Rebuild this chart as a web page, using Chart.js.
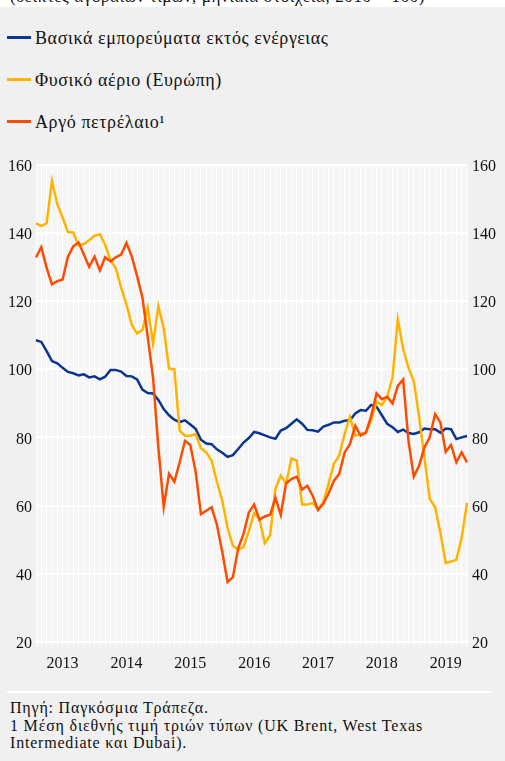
<!DOCTYPE html>
<html>
<head>
<meta charset="utf-8">
<script src="https://cdn.jsdelivr.net/npm/chart.js@4"></script>
<style>
  body {
    margin: 0;
    width: 505px;
    height: 761px;
    overflow: hidden;
    background: #f0f0f0;
    font-family: "Liberation Serif", "DejaVu Serif", serif;
    color: #111;
    position: relative;
  }
  #subtitle {
    position: absolute;
    left: 0;
    top: 0;
    width: 505px;
    height: 7px;
    background: #fff;
    overflow: hidden;
  }
  #subtitle span {
    position: absolute;
    left: 10px;
    top: -13px;
    font-family: "Liberation Serif", serif;
    font-size: 17px;
    letter-spacing: 0.6px;
    white-space: nowrap;
  }
  .legend-item {
    position: absolute;
    left: 7px;
    font-family: "Liberation Serif", serif;
    font-size: 18px;
    letter-spacing: 0.6px;
    white-space: nowrap;
  }
  .legend-item i {
    display: inline-block;
    width: 24px;
    height: 3px;
    vertical-align: middle;
    margin-right: 4px;
    position: relative;
    top: -2px;
  }
  #chartBox {
    position: absolute;
    left: 0;
    top: 150px;
    width: 505px;
    height: 530px;
  }
  #sep {
    position: absolute;
    left: 7px;
    top: 691px;
    width: 484px;
    height: 2px;
    background: #fff;
  }
  #footer {
    position: absolute;
    left: 10px;
    top: 699px;
    font-family: "Liberation Serif", serif;
    font-size: 16px;
    letter-spacing: 0.8px;
    line-height: 17.5px;
    white-space: nowrap;
  }
</style>
</head>
<body>
<div id="subtitle"><span>(δείκτες αγοραίων τιμών, μηνιαία στοιχεία, 2010 = 100)</span></div>
<div id="legend"></div>
<div id="chartBox"><canvas id="priceChart" width="505" height="530"></canvas></div>
<div id="sep"></div>
<div id="footer">
  Πηγή: Παγκόσμια Τράπεζα.<br>
  1 Μέση διεθνής τιμή τριών τύπων (UK Brent, West Texas<br>
  Intermediate και Dubai).
</div>
<script>
// monthly data, Aug 2012 - May 2019
const startYear = 2012;
const startMonth = 8;

const seriesNames = [
  "Βασικά εμπορεύματα εκτός ενέργειας",
  "Φυσικό αέριο (Ευρώπη)",
  "Αργό πετρέλαιο¹",
];
const seriesColors = ["#0a3591", "#ffb300", "#ff4b00"];

const nonEnergy = [
  108.5, 108, 105.3, 102.4, 101.7, 100.4, 99.2, 98.8, 98.2, 98.5,
  97.6, 97.9, 97, 97.8, 99.8, 99.8, 99.3, 98, 97.9, 97,
  94, 93, 92.9, 91, 88.3, 86.5, 85.2, 84.5, 85, 83.8,
  82.5, 79.3, 78.2, 78, 76.5, 75.5, 74.3, 74.8, 76.6, 78.5,
  79.8, 81.6, 81.2, 80.6, 80, 79.6, 82, 82.7, 84, 85.3,
  84, 82.2, 82.1, 81.7, 83.2, 83.7, 84.4, 84.4, 84.9, 85,
  87, 88, 87.8, 89.5, 89, 86.5, 84, 83, 81.6, 82.3,
  81.3, 81, 81.5, 82.6, 82.4, 82.4, 81.4, 82.6, 82.4, 79.5,
  80, 80.4,
];

const naturalGas = [
  142.8, 142, 142.8, 155.2, 148.4, 144.5, 140.2, 140.1, 136.3, 136.7,
  137.8, 139.1, 139.6, 136.5, 132, 129.5, 124, 119, 113, 110.5,
  111.5, 118, 107.5, 118.5, 112, 100.2, 100, 82, 80.5, 80.5,
  81, 76.8, 75.6, 73.2, 67, 61.5, 53.5, 48.2, 47.1, 47.8,
  52.5, 57.8, 56, 49, 51.3, 65, 68.8, 66.5, 73.8, 73.2,
  60.3, 60.3, 60.8, 59, 61, 66.5, 72.3, 74.8, 81, 86,
  80.5, 81, 81.5, 85, 90.5, 89.5, 92, 97.5, 114.6, 106,
  100.4, 96.5, 86, 74, 62, 59.5, 52, 43.2, 43.6, 44.1,
  50.5, 60.8,
];

const crudeOil = [
  132.8, 135.8, 129.7, 124.9, 125.8, 126.3, 133, 136, 137.2, 133.6,
  130, 133, 129, 132.8, 131.6, 132.8, 133.6, 137, 133.1, 127.3,
  121, 109.5, 97.5, 77, 59.6, 69.3, 67, 72.7, 79, 77.8,
  70, 57.5, 58.5, 59.5, 54.4, 46.5, 37.6, 39, 47.5, 51.7,
  58, 60.3, 55.9, 56.8, 57.3, 62.3, 57.3, 66.5, 67.8, 68.5,
  64.7, 65.8, 62.9, 58.7, 60.5, 63.6, 67.3, 69.3, 75.6, 78,
  83.4, 80.5, 81.3, 86.3, 92.9, 91.2, 91.9, 89.9, 95.1, 97,
  79, 68.5, 71.7, 77.1, 80, 86.8, 84.4, 75.8, 77.8, 72.7,
  75.6, 72.7,
];

const yTicks = [20, 40, 60, 80, 100, 120, 140, 160];

// month labels, year shown only in January
const months = [];
for (let i = 0; i < nonEnergy.length; i++) {
  const m = startMonth - 1 + i;
  months.push({ year: startYear + Math.floor(m / 12), month: (m % 12) + 1 });
}
const labels = months.map((d) => d.year + "-" + d.month);

// html legend
const legendEl = document.getElementById("legend");
const legendTops = [28, 70, 112];
seriesNames.forEach((name, i) => {
  const div = document.createElement("div");
  div.className = "legend-item";
  div.style.top = legendTops[i] + "px";
  div.innerHTML = `<i style="background:${seriesColors[i]}"></i>${name}`;
  legendEl.appendChild(div);
});

const tickFont = { family: "'Liberation Serif', serif", size: 16 };

const plotBg = {
  id: "plotBg",
  beforeDraw(chart) {
    const { ctx, chartArea } = chart;
    ctx.save();
    ctx.fillStyle = "#f5f5f5";
    ctx.fillRect(chartArea.left, chartArea.top, chartArea.right - chartArea.left, chartArea.bottom - chartArea.top);
    ctx.restore();
  },
};

const ctx = document.getElementById("priceChart").getContext("2d");
new Chart(ctx, {
  type: "line",
  data: {
    labels: labels,
    datasets: [
      {
        label: seriesNames[0],
        data: nonEnergy,
        borderColor: seriesColors[0],
        order: 2,
      },
      {
        label: seriesNames[1],
        data: naturalGas,
        borderColor: seriesColors[1],
        order: 1,
      },
      {
        label: seriesNames[2],
        data: crudeOil,
        borderColor: seriesColors[2],
        order: 0,
      },
    ],
  },
  options: {
    responsive: false,
    animation: false,
    layout: { padding: { top: 13, left: 0, right: 0, bottom: 0 } },
    elements: {
      line: { borderWidth: 2.5, tension: 0, fill: false },
      point: { radius: 0 },
    },
    plugins: {
      legend: { display: false },
      tooltip: { enabled: false },
    },
    scales: {
      x: {
        offset: false,
        border: { display: false },
        grid: { color: "#ffffff", lineWidth: 1, tickLength: 4, drawTicks: true },
        ticks: {
          autoSkip: false,
          maxRotation: 0,
          padding: 8,
          color: "#111",
          font: tickFont,
          callback: (val, i) => (months[i].month === 1 ? String(months[i].year) : ""),
        },
        afterFit: (scale) => {
          scale.height = 38;
        },
      },
      y: {
        position: "left",
        min: 20,
        max: 160,
        border: { display: false },
        grid: { color: "#ffffff", lineWidth: 2, drawTicks: false },
        ticks: {
          stepSize: 20,
          padding: 4,
          labelOffset: 2,
          color: "#111",
          font: tickFont,
        },
        afterBuildTicks: (scale) => {
          scale.ticks = yTicks.map((v) => ({ value: v }));
        },
        afterFit: (scale) => {
          scale.width = 36;
        },
      },
      y2: {
        position: "right",
        min: 20,
        max: 160,
        border: { display: false },
        grid: { drawOnChartArea: false, drawTicks: false },
        ticks: {
          stepSize: 20,
          padding: 5,
          labelOffset: 2,
          color: "#111",
          font: tickFont,
        },
        afterBuildTicks: (scale) => {
          scale.ticks = yTicks.map((v) => ({ value: v }));
        },
        afterFit: (scale) => {
          scale.width = 38;
        },
      },
    },
  },
  plugins: [plotBg],
});
</script>
</body>
</html>
